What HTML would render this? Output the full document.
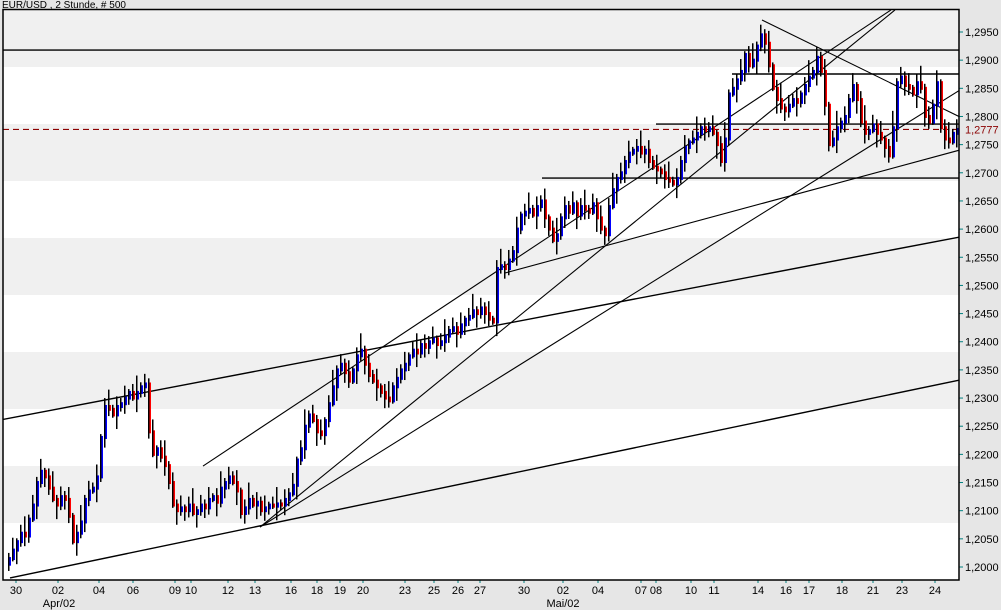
<!DOCTYPE html>
<html><head><meta charset="utf-8"><style>
html,body{margin:0;padding:0;background:#e6e6e6;}
svg{display:block;font-family:"Liberation Sans",Arial,sans-serif;}
</style></head><body>
<svg id="chart" width="1001" height="610" viewBox="0 0 1001 610" xmlns="http://www.w3.org/2000/svg">
<rect x="0" y="0" width="1001" height="610" fill="#e6e6e6"/>
<text x="2" y="8" font-size="10" fill="#000">EUR/USD , 2 Stunde, # 500</text>
<defs><clipPath id="plotclip"><rect x="3" y="10" width="956" height="570"/></clipPath></defs>
<g>
<rect x="3" y="10" width="956" height="570" fill="#ffffff"/>
<rect x="3" y="10" width="956" height="57" fill="#f0f0f0"/>
<rect x="3" y="124" width="956" height="57" fill="#f0f0f0"/>
<rect x="3" y="238" width="956" height="57" fill="#f0f0f0"/>
<rect x="3" y="352" width="956" height="57" fill="#f0f0f0"/>
<rect x="3" y="466" width="956" height="57" fill="#f0f0f0"/>
</g>
<g id="lines" clip-path="url(#plotclip)"></g>
<g id="bars" clip-path="url(#plotclip)"></g>
<g id="yaxis"></g>
<g id="xaxis"></g>
<rect x="3" y="9.5" width="956" height="570.5" fill="none" stroke="#000" stroke-width="1.5"/>
</svg>
<script>
const closes = [1.2015,1.2030,1.2045,1.2060,1.2055,1.2085,1.2110,1.2150,1.2170,1.2160,1.2140,1.2120,1.2110,1.2125,1.2120,1.2090,1.2045,1.2060,1.2080,1.2120,1.2135,1.2140,1.2160,1.2230,1.2285,1.2280,1.2270,1.2285,1.2290,1.2300,1.2310,1.2300,1.2310,1.2320,1.2325,1.2240,1.2200,1.2210,1.2195,1.2180,1.2150,1.2110,1.2100,1.2105,1.2100,1.2110,1.2095,1.2100,1.2110,1.2105,1.2120,1.2125,1.2115,1.2140,1.2150,1.2160,1.2150,1.2135,1.2095,1.2105,1.2120,1.2110,1.2115,1.2100,1.2105,1.2110,1.2108,1.2112,1.2110,1.2120,1.2130,1.2145,1.2190,1.2210,1.2250,1.2270,1.2260,1.2240,1.2235,1.2260,1.2290,1.2320,1.2350,1.2360,1.2345,1.2330,1.2350,1.2375,1.2385,1.2360,1.2340,1.2330,1.2320,1.2310,1.2300,1.2295,1.2320,1.2335,1.2350,1.2360,1.2375,1.2385,1.2380,1.2395,1.2390,1.2400,1.2405,1.2395,1.2400,1.2410,1.2420,1.2425,1.2415,1.2430,1.2440,1.2445,1.2455,1.2450,1.2460,1.2450,1.2440,1.2435,1.2530,1.2535,1.2530,1.2545,1.2560,1.2600,1.2625,1.2630,1.2635,1.2625,1.2640,1.2650,1.2620,1.2600,1.2580,1.2590,1.2620,1.2640,1.2630,1.2645,1.2625,1.2640,1.2635,1.2630,1.2645,1.2620,1.2600,1.2590,1.2640,1.2670,1.2690,1.2700,1.2720,1.2735,1.2740,1.2745,1.2735,1.2740,1.2720,1.2710,1.2705,1.2700,1.2690,1.2685,1.2680,1.2690,1.2720,1.2745,1.2755,1.2760,1.2770,1.2780,1.2775,1.2780,1.2770,1.2750,1.2720,1.2760,1.2840,1.2850,1.2865,1.2880,1.2910,1.2890,1.2900,1.2925,1.2945,1.2930,1.2890,1.2850,1.2830,1.2815,1.2810,1.2820,1.2830,1.2825,1.2840,1.2855,1.2870,1.2880,1.2905,1.2880,1.2820,1.2750,1.2760,1.2780,1.2790,1.2800,1.2830,1.2855,1.2830,1.2790,1.2770,1.2775,1.2785,1.2770,1.2760,1.2745,1.2730,1.2780,1.2860,1.2870,1.2855,1.2850,1.2840,1.2860,1.2850,1.2800,1.2790,1.2820,1.2860,1.2780,1.2760,1.2755,1.2770,1.2777];
const wickUp = [0.0010,0.0022,0.0006,0.0015,0.0030,0.0008,0.0018];
const wickDown = [0.0012,0.0005,0.0025,0.0009,0.0018];
const firstOpen = 1.2005;
const lastPrice = 1.2777;
const yTicks = [1.2000,1.2050,1.2100,1.2150,1.2200,1.2250,1.2300,1.2350,1.2400,1.2450,1.2500,1.2550,1.2600,1.2650,1.2700,1.2750,1.2800,1.2850,1.2900,1.2950];
const xTickIdx = [2,12.5,22.75,31.25,41.75,45.75,55,61.75,70.75,77.25,83,88.75,99.25,106.5,112.5,118,129,138.75,147.5,158.25,162,170.75,176.5,187.5,194.5,200.25,208.5,216.25,223.5,231.75];
const xTickLabels = ["30","02","04","06","09","10","12","13","16","18","19","20","23","25","26","27","30","02","04","07","08","10","11","14","16","17","18","21","23","24"];
const monthIdx = [12.75,138.75];
const monthLabels = ["Apr/02","Mai/02"];
// trend lines: [idx1, price1, idx2, price2]
const trendLines = [
 [-2,1.22610,238,1.25860],
 [0.5,1.19805,238,1.23321],
 [48.75,1.21793,220.75,1.29891],
 [63,1.20710,221.75,1.29891],
 [63,1.20710,238,1.28470],
 [124.25,1.25221,238,1.27405],
 [188.5,1.29713,238,1.27991],
 [-2,1.29180,238,1.29180],
 [181,1.28754,238,1.28754],
 [162,1.27866,238,1.27866],
 [133.5,1.26907,238,1.26907]
];

const NS = "http://www.w3.org/2000/svg";
function xs(i){ return 8 + i*4; }
function ys(p){ return 567 - (p-1.2)/0.005*28.158; }
function mk(tag, attrs, parent){
  const e = document.createElementNS(NS, tag);
  for (const k in attrs) e.setAttribute(k, attrs[k]);
  parent.appendChild(e);
  return e;
}
const gl = document.getElementById('lines');
trendLines.forEach((t, k) => {
  const l = mk('line', {x1: xs(t[0]), y1: ys(t[1]), x2: xs(t[2]), y2: ys(t[3]), stroke: '#000', 'stroke-width': (k===1||k===0||k>=7)?1.4:1.1}, gl);
  
  
});
const dl = mk('line', {x1: 3, y1: ys(lastPrice), x2: 959, y2: ys(lastPrice), stroke: '#8b0000', 'stroke-width': 1.2, 'stroke-dasharray': '6,4'}, gl);



const gb = document.getElementById('bars');
closes.forEach((c, i) => {
  const o = i === 0 ? firstOpen : closes[i-1];
  const hi = Math.max(o, c) + wickUp[i % wickUp.length];
  const lo = Math.min(o, c) - wickDown[i % wickDown.length];
  const x = xs(i);
  const g = mk('g', {}, gb);
  
  
  mk('line', {x1: x+0.75, y1: ys(hi), x2: x+0.75, y2: ys(lo), stroke: '#000', 'stroke-width': 1.5}, g);
  const y1 = ys(o), y2 = ys(c);
  const up = c >= o;
  const top = Math.min(y1, y2) - 1.5, bot = Math.max(y1, y2) + 1.5;
  mk('line', {x1: x+2.25, y1: top, x2: x+2.25, y2: bot, stroke: up ? '#0000ff' : '#ff0000', 'stroke-width': 1.5}, g);
});

const gy = document.getElementById('yaxis');
yTicks.forEach(p => {
  const y = ys(p);
  const t = mk('line', {x1: 959, y1: y, x2: 963, y2: y, stroke: '#008080', 'stroke-width': 1}, gy);
  
  
  const tx = mk('text', {x: 965, y: y+4, 'font-size': 11, fill: '#000'}, gy);
  tx.textContent = p.toFixed(4).replace('.', ',');
  
  
});
const lp = mk('text', {x: 965, y: ys(lastPrice)+4, 'font-size': 11, fill: '#8b0000'}, gy);
lp.textContent = lastPrice.toFixed(4).replace('.', ',');



const gx = document.getElementById('xaxis');
xTickIdx.forEach((i, k) => {
  const x = xs(i);
  const t = mk('line', {x1: x, y1: 580, x2: x, y2: 583, stroke: '#008080', 'stroke-width': 1}, gx);
  
  
  const tx = mk('text', {x: x, y: 594, 'font-size': 11, fill: '#000', 'text-anchor': 'middle'}, gx);
  tx.textContent = xTickLabels[k];
  
  
});
monthIdx.forEach((i, k) => {
  const tx = mk('text', {x: xs(i), y: 607, 'font-size': 11, fill: '#000', 'text-anchor': 'middle'}, gx);
  tx.textContent = monthLabels[k];
  
  
});
</script>
</body></html>
